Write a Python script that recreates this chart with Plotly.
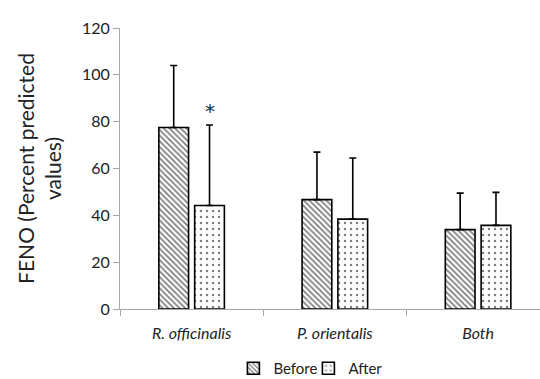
import plotly.graph_objects as go

categories = ["<i>R. officinalis</i>", "<i>P. orientalis</i>", "<i>Both</i>"]
before_vals = [77.5, 46.7, 33.9]
before_err = [26.5, 20.3, 15.6]
after_vals = [44.2, 38.4, 35.7]
after_err = [34.4, 26.1, 14.1]
y_ticks = [0, 20, 40, 60, 80, 100, 120]
sig_marks = ["*", "", ""]

W, H = 540, 379
L, R, T, B = 119.5, 0, 28.3, 69.7
bargap = 0.5
bargroupgap = 0.17

fig = go.Figure()
fig.add_trace(go.Bar(
    name="Before", x=categories, y=before_vals,
    marker=dict(color="white", line=dict(color="black", width=1.6),
                pattern=dict(shape="\\", fgcolor="black", bgcolor="white", size=4, solidity=0.45)),
    error_y=dict(type="data", symmetric=False, array=before_err, arrayminus=[0]*3,
                 color="black", thickness=1.6, width=3.5),
))
fig.add_trace(go.Bar(
    name="After", x=categories, y=after_vals,
    marker=dict(color="white", line=dict(color="black", width=1.6),
                pattern=dict(shape=".", fgcolor="black", bgcolor="white", size=6, solidity=0.14)),
    error_y=dict(type="data", symmetric=False, array=after_err, arrayminus=[0]*3,
                 color="black", thickness=1.6, width=3.5),
))

offset = (1 - bargap) / 4
for i, m in enumerate(sig_marks):
    if m:
        fig.add_annotation(x=i + offset, y=after_vals[i] + after_err[i], xref="x", yref="y",
                           text=m, showarrow=False, yanchor="bottom", yshift=0,
                           font=dict(family="DejaVu Sans", size=20, color="#222222"))

plot_w = W - L - R
cat_w = 143.4
fig.update_layout(
    width=W, height=H,
    margin=dict(l=L, r=R, t=T, b=B, pad=0, autoexpand=False),
    paper_bgcolor="white", plot_bgcolor="white",
    barmode="group", bargap=bargap, bargroupgap=bargroupgap,
    font=dict(family="Lato", color="#333333"),
    showlegend=True,
    legend=dict(orientation="h", x=0.27, xanchor="left", yref="container", y=(H - 352) / H,
                yanchor="top",
                font=dict(size=15, color="#222222"), itemwidth=30, traceorder="normal",
                entrywidth=30, entrywidthmode="pixels", tracegroupgap=0),
    xaxis=dict(
        range=[-0.5, plot_w / cat_w - 0.5],
        showline=True, linecolor="#a6a6a6", linewidth=1,
        ticks="outside", tickson="boundaries", ticklen=6, tickcolor="#a6a6a6",
        tickfont=dict(family="Lato", size=16, color="#222222"),
        ticklabelstandoff=10,
        showgrid=False, zeroline=False,
    ),
    yaxis=dict(
        range=[0, 120], tickvals=y_ticks,
        showline=True, linecolor="#a6a6a6", linewidth=1,
        ticks="outside", ticklen=6, tickcolor="#a6a6a6",
        tickfont=dict(family="Lato", size=16, color="#222222"),
        showgrid=False, zeroline=False,
        title=dict(text="FENO (Percent predicted<br>values)", standoff=14,
                   font=dict(family="Lato", size=21, color="#222222")),
    ),
)

fig.write_html("out.html")
